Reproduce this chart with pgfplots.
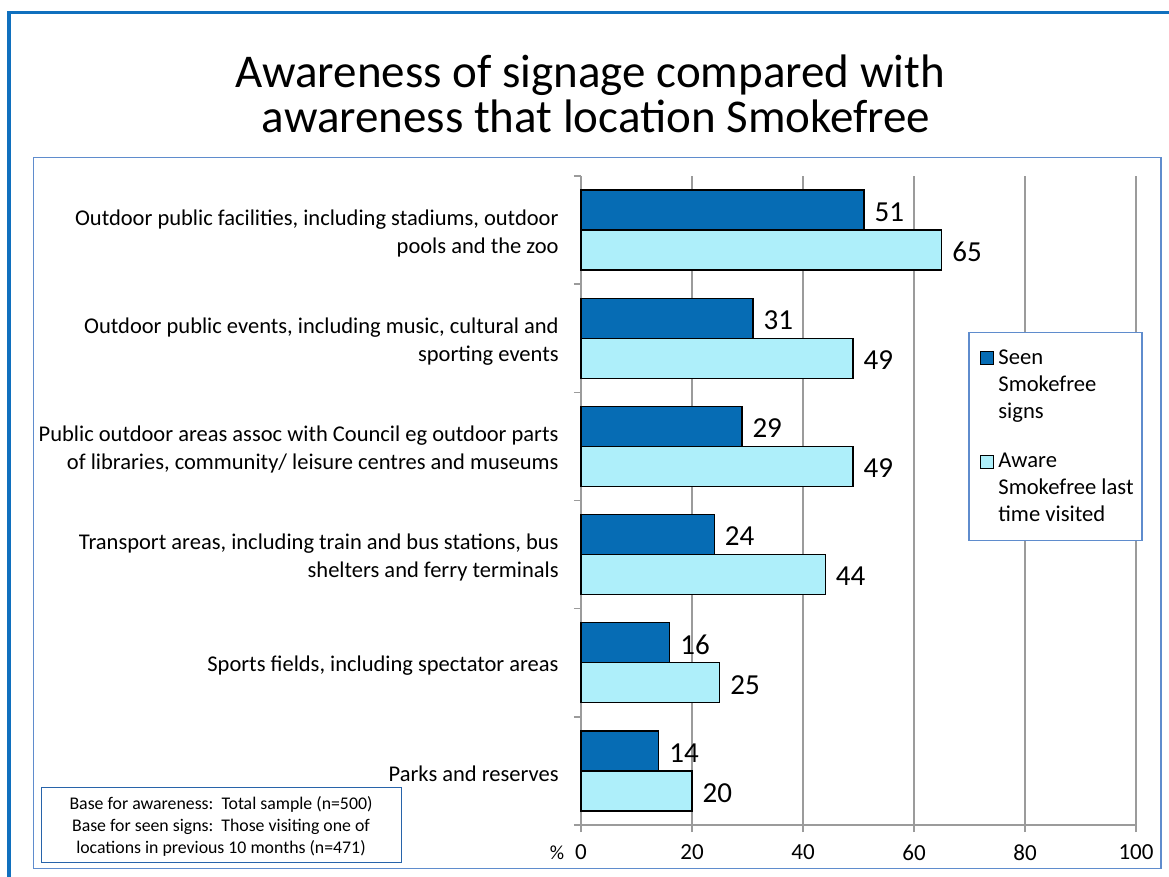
\documentclass[border=0pt]{standalone}
\usepackage{pgfplots}
\pgfplotsset{compat=1.18}
\usepackage{fontspec}
\setmainfont{Carlito}

\definecolor{seen}{RGB}{6,108,180}
\definecolor{aware}{RGB}{174,239,250}
\definecolor{frameblue}{RGB}{16,112,190}
\definecolor{boxblue}{RGB}{95,140,205}
\definecolor{notebox}{RGB}{40,100,170}
\definecolor{gridgray}{RGB}{155,155,155}

\begin{document}
\begin{tikzpicture}
% page: 1169 x 877 units (half points), y running downwards
\begin{scope}[x=0.5pt,y=-0.5pt]
\path[use as bounding box] (0,0) rectangle (1169,877);
\begin{scope}
  \clip (0,0) rectangle (1169,877);
  \draw[frameblue,line width=1.6pt] (9,12.5) rectangle (1230,930);
\end{scope}
\draw[boxblue,line width=0.6pt] (33.5,157.5) rectangle (1161,868.5);

% title
\node[anchor=base,font=\fontsize{23.5}{22.5}\selectfont,inner sep=0pt] at (590,88) {Awareness of signage compared with};
\node[anchor=base,font=\fontsize{23.5}{22.5}\selectfont,inner sep=0pt] at (596,133) {awareness that location Smokefree};
\end{scope}

% categories sit at y = 1..6 (bottom to top); each pair of bars is
% drawn 0.185 above / below the category centre, with no bar shift
\begin{axis}[
  at={(290.5pt,-412.5pt)}, anchor=south west,
  scale only axis, width=277.5pt, height=324.5pt,
  xmin=0, xmax=100, ymin=0.5, ymax=6.5,
  xbar, bar width=20pt, bar shift=0pt,
  axis x line*=bottom, axis y line*=left,
  axis line style={gridgray,line width=0.7pt},
  tick align=outside, major tick length=3.5pt,
  tick style={gridgray,line width=0.7pt},
  xtick={0,20,...,100},
  xmajorgrids, major grid style={gridgray,line width=0.7pt},
  ytick={0.5,1.5,...,6.5}, yticklabels={},
  extra y ticks={1,2,3,4,5,6},
  extra y tick labels={
    {Parks and reserves},
    {Sports fields, including spectator areas},
    {Transport areas, including train and bus stations, bus\\shelters and ferry terminals},
    {Public outdoor areas assoc with Council eg outdoor parts\\of libraries, community/ leisure centres and museums},
    {Outdoor public events, including music, cultural and\\sporting events},
    {Outdoor public facilities, including stadiums, outdoor\\pools and the zoo}},
  extra y tick style={major tick length=0pt, grid=none,
    yticklabel style={align=right, inner sep=0pt, xshift=-11pt, yshift=-1.5pt,
      font=\fontsize{11.25}{14}\selectfont}},
  /pgf/number format/assume math mode=true,
  xticklabel style={font=\fontsize{11.5}{14}\selectfont, yshift=-3pt},
  nodes near coords, point meta=x,
  nodes near coords style={font=\fontsize{14.5}{16}\selectfont,
    anchor=west, inner sep=0pt, xshift=5pt, yshift=-1pt},
  clip=false,
]
% Seen Smokefree signs
\addplot[fill=seen, draw=black, line width=0.6pt]
  coordinates {(14,1.185) (16,2.185) (24,3.185) (29,4.185) (31,5.185) (51,6.185)};
% Aware Smokefree last time visited
\addplot[fill=aware, draw=black, line width=0.6pt]
  coordinates {(20,0.815) (25,1.815) (44,2.815) (49,3.815) (49,4.815) (65,5.815)};
\end{axis}

\begin{scope}[x=0.5pt,y=-0.5pt]
\node[font=\fontsize{10}{12}\selectfont] at (557,853) {\%};

% legend
\draw[boxblue,line width=0.6pt,fill=white] (969,332.5) rectangle (1142,540.5);
\fill[seen,draw=black,line width=0.4pt] (980,351) rectangle (993,364);
\node[anchor=north west,align=left,inner sep=0pt,font=\fontsize{11.3}{13.5}\selectfont] at (998,349) {Seen\\Smokefree\\signs};
\fill[aware,draw=black,line width=0.4pt] (980,455) rectangle (993,468);
\node[anchor=north west,align=left,inner sep=0pt,font=\fontsize{11.3}{13.5}\selectfont] at (998,453) {Aware\\Smokefree last\\time visited};

% base note
\draw[notebox,line width=0.6pt] (41.5,787.5) rectangle (401.5,862.5);
\node[align=center,inner sep=0pt,font=\fontsize{8.9}{11}\selectfont] at (221,826) {Base for awareness:\ \ Total sample (n=500)\\Base for seen signs:\ \ Those visiting one of\\locations in previous 10 months (n=471)};
\end{scope}
\end{tikzpicture}
\end{document}
